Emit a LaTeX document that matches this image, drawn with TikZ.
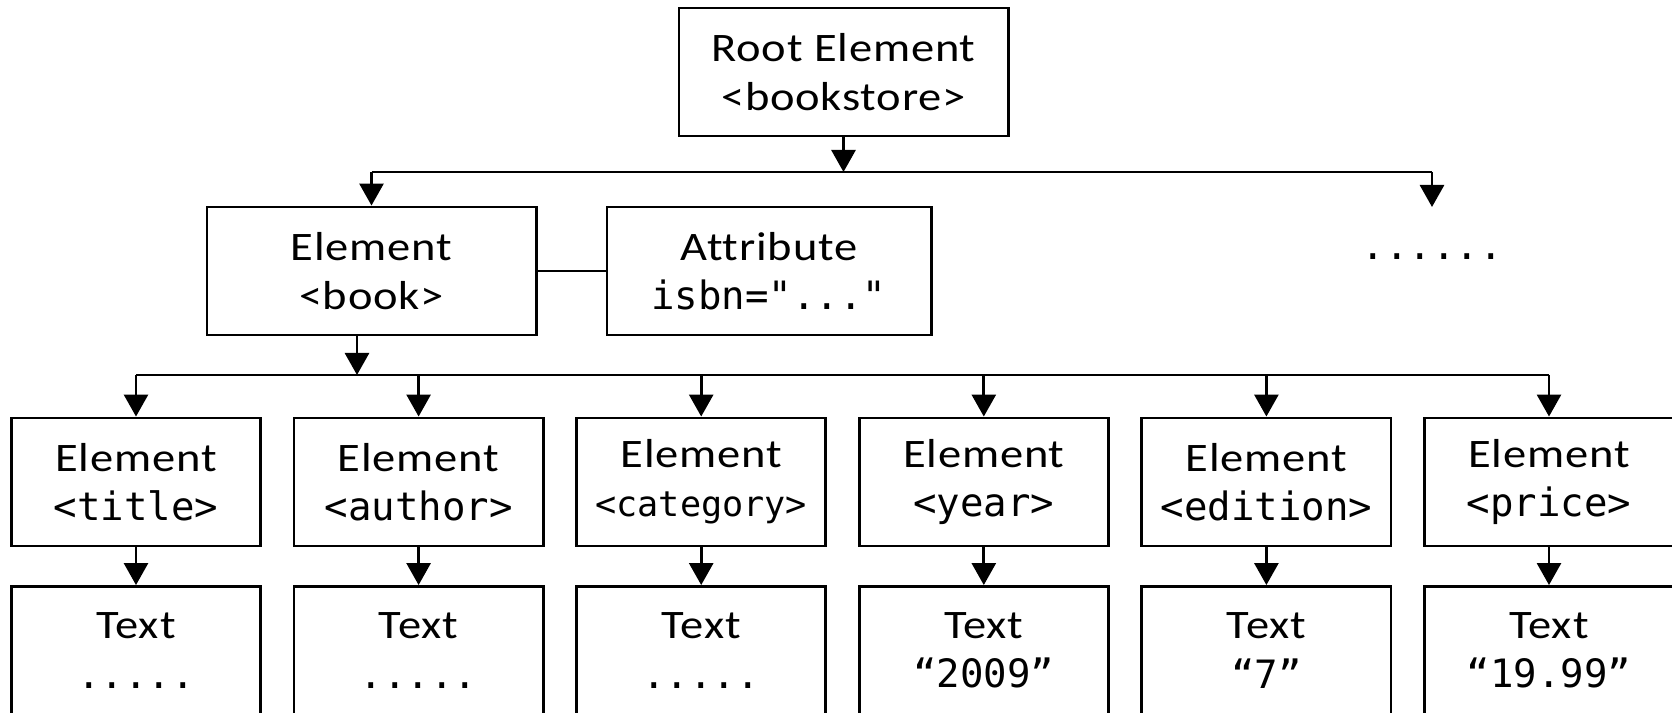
\documentclass[tikz,border=0pt]{standalone}
\usepackage{fontspec}
\setmainfont{Carlito}[FakeStretch=1.15,LetterSpace=2,Ligatures={NoCommon}]
\setmonofont{DejaVu Sans Mono}
\usetikzlibrary{arrows.meta}
\newcommand{\tagtxt}[2][11.1]{{\fontsize{#1}{14}\selectfont\ttfamily #2}}
\newcommand{\dotrow}{.....}

\begin{document}
\begin{tikzpicture}[x=0.01cm, y=-0.01cm, line width=0.8pt,
	box/.style={draw, align=center, inner sep=0pt, minimum width=2.49cm, minimum height=1.28cm,
		font=\fontsize{11.5}{14}\selectfont},
	wide/.style={box, minimum width=3.29cm},
	arr/.style={-{Triangle[length=2.2mm, width=2.4mm]}}]
	\useasboundingbox (0,0) rectangle (1672,713);
	\clip (0,0) rectangle (1672,713);
	\node [wide] (root) at (843.5,72) {Root Element\\<bookstore>};
	\node [wide] (book) at (371.5,271) {Element\\<book>};
	\node [wide, minimum width=3.24cm] (attr) at (769,271) {Attribute\\\tagtxt{isbn="..."}};
	\node [anchor=north, minimum height=0.97cm, inner sep=0pt] (more) at (1432,207) {\tagtxt{......}};
	\coordinate (bus1) at (0,172);
	\coordinate (bus2) at (0,375);
	\coordinate (bk) at ([xshift=-1.45mm]book.south);
	\draw (book) -- (attr);
	\draw [arr] (root) -- (root |- bus1);
	\draw (book |- bus1) -- (more |- bus1);
	\draw [arr] (book |- bus1) -- (book);
	\draw [arr] (more |- bus1) -- (more.north);
	\draw [arr] (bk) -- (bk |- bus2);
	\foreach \tag/\val/\sz [count=\i, evaluate=\i as \cx using 136+282.6*(\i-1)] in
		{title/\dotrow/11.1, author/\dotrow/11.1, category/\dotrow/10, year/“2009”/11.1, edition/“7”/11.1, price/“19.99”/11.1} {
		\node [box] (el\i) at (\cx,482) {Element\\\tagtxt[\sz]{<\tag>}};
		\node [box] (tx\i) at (\cx,650.5) {Text\\\tagtxt{\val}};
		\draw [arr] (el\i |- bus2) -- (el\i);
		\draw [arr] (el\i) -- (tx\i);
	}
	\draw (el1 |- bus2) -- (el6 |- bus2);
\end{tikzpicture}
\end{document}
